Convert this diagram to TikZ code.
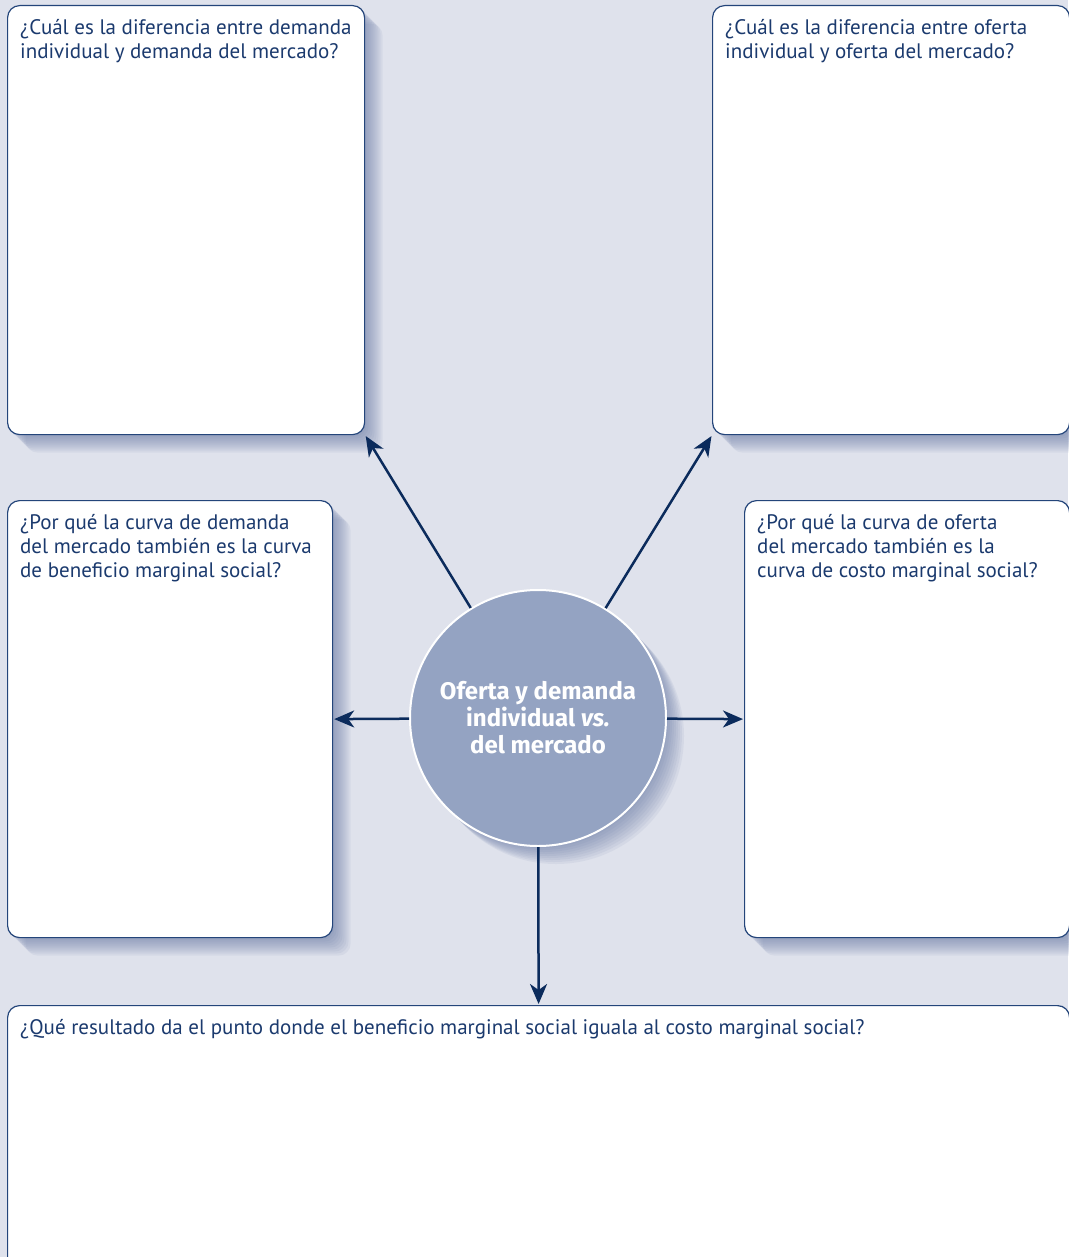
\documentclass[tikz,border=0pt]{standalone}
\usepackage{fontspec}
\setmainfont{PT Sans}
\newfontfamily\titulo{Fira Sans}
\usetikzlibrary{arrows.meta, shadows}

\definecolor{fondo}{HTML}{DFE2EC}
\definecolor{borde}{HTML}{24457A}
\definecolor{tinta}{HTML}{1B3A6E}
\definecolor{flechazul}{HTML}{0B2B5C}
\definecolor{circulo}{HTML}{94A3C2}
\definecolor{sombra}{HTML}{5C6E9E}

\begin{document}
\begin{tikzpicture}
    [x=1pt, y=-1pt,
     every node/.style={font=\fontsize{21}{24}\selectfont, text=tinta},
     % soft shadow built from stacked translucent copies
     capa/.style={general shadow={fill=sombra, opacity=.08,
                                  shadow xshift=#1, shadow yshift=-#1}},
     sombreado/.style={capa/.list={2pt,4pt,6pt,8pt,10pt,12pt,14pt,16pt,18pt}},
     caja/.style={draw=borde, line width=1.2pt, fill=white, rounded corners=12pt,
                  anchor=north west, inner sep=0pt, sombreado},
     pregunta/.style={anchor=north west, align=left, inner sep=0pt,
                      xshift=13pt, yshift=-14pt},
     flecha/.style={draw=flechazul, line width=2.5pt, shorten >=1pt,
                    -{Stealth[length=20pt, width=17pt, inset=6pt]}}]

    \fill[fondo] (0,0) rectangle (1068,1257);
    \useasboundingbox (0,0) rectangle (1068,1257);

    % preguntas
    \node[caja, minimum width=357pt, minimum height=429pt,
          label={[pregunta]north west:¿Cuál es la diferencia entre demanda\\individual y demanda del mercado?}]
          (demanda) at (7,5) {};
    \node[caja, minimum width=357pt, minimum height=429pt,
          label={[pregunta]north west:¿Cuál es la diferencia entre oferta\\individual y oferta del mercado?}]
          (oferta) at (712,5) {};
    \node[caja, minimum width=325pt, minimum height=437pt,
          label={[pregunta]north west:¿Por qué la curva de demanda\\del mercado también es la curva\\de beneficio marginal social?}]
          (bms) at (7,500) {};
    \node[caja, minimum width=325pt, minimum height=437pt,
          label={[pregunta]north west:¿Por qué la curva de oferta\\del mercado también es la\\curva de costo marginal social?}]
          (cms) at (744,500) {};
    \node[caja, minimum width=1062pt, minimum height=280pt,
          label={[pregunta]north west:¿Qué resultado da el punto donde el beneficio marginal social iguala al costo marginal social?}]
          (resultado) at (7,1005) {};

    % tema central
    \node[circle, minimum size=256pt, fill=circulo, draw=white, line width=2pt,
          text=white, align=center, font=\titulo\fontsize{24}{27}\selectfont\bfseries,
          sombreado]
          (tema) at (538,718) {Oferta y demanda\\individual \textit{vs.}\\del mercado};

    \draw[flecha] (tema) -- (demanda.south east);
    \draw[flecha] (tema) -- (oferta.south west);
    \draw[flecha] (tema) -- (bms.east);
    \draw[flecha] (tema) -- (cms.west);
    \draw[flecha] (tema) -- (resultado.north);
  \end{tikzpicture}
\end{document}
